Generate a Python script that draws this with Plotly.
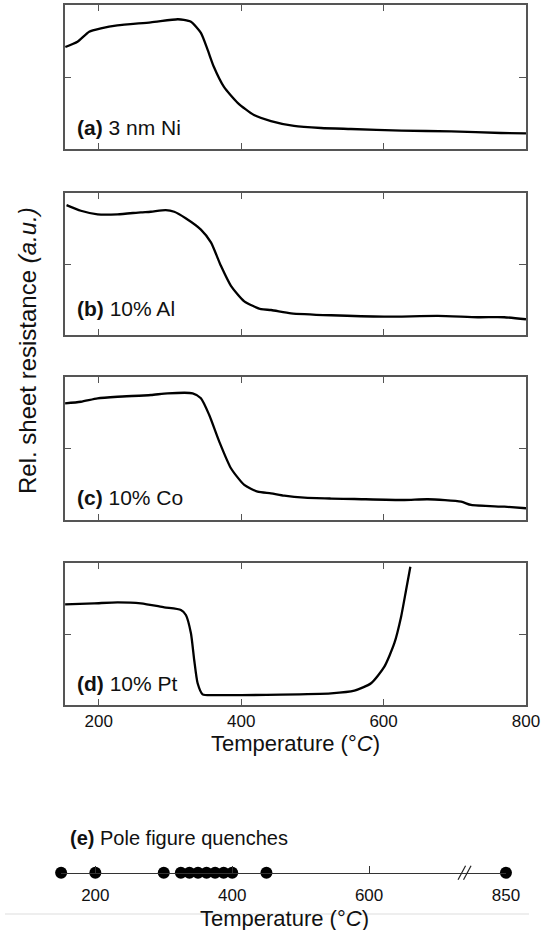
import plotly.graph_objects as go

# ---- data: relative sheet resistance (a.u.) vs temperature (°C) ----
temp_ni = [153, 170, 186.5, 203, 226, 273, 310.7, 319.5, 329.4, 343.4, 352.9, 361.7,
           375.8, 395.4, 417.9, 441.8, 474.2, 512, 554, 625, 695, 765, 800]
res_ni = [0.708, 0.745, 0.815, 0.838, 0.859, 0.880, 0.901, 0.897, 0.884, 0.806, 0.688, 0.569,
          0.431, 0.319, 0.236, 0.194, 0.160, 0.146, 0.139, 0.128, 0.122, 0.111, 0.108]

temp_al = [154.7, 174.8, 198.3, 226.4, 259.1, 273, 294, 305.9, 322, 343.4, 357.5, 371.5,
           385.6, 404.3, 427.8, 442, 470.1, 526.3, 600.6, 676.1, 732.3, 769.3, 800]
res_al = [0.915, 0.875, 0.850, 0.850, 0.864, 0.868, 0.880, 0.868, 0.822, 0.742, 0.652, 0.487,
          0.346, 0.237, 0.182, 0.176, 0.153, 0.139, 0.129, 0.134, 0.125, 0.125, 0.111]

temp_co = [152.7, 174.8, 198.3, 226.4, 273.2, 296.6, 331.8, 343.4, 355.1, 369.2, 385.6, 404.3,
           423.1, 441.8, 460.5, 488.6, 526.2, 559, 629.2, 662, 708.9, 722.9, 769.7, 800]
res_co = [0.816, 0.827, 0.851, 0.862, 0.874, 0.886, 0.886, 0.851, 0.734, 0.548, 0.362, 0.245,
          0.198, 0.186, 0.170, 0.156, 0.150, 0.147, 0.140, 0.145, 0.128, 0.105, 0.093, 0.082]

temp_pt = [152.7, 193.5, 226.4, 259.1, 291.9, 315.3, 322.3, 329.4, 334, 338.8, 345.8, 366.9,
           455.9, 526.2, 559, 582.4, 601.1, 615.1, 624.6, 631.6, 637.6]
res_pt = [0.709, 0.716, 0.723, 0.716, 0.688, 0.669, 0.634, 0.505, 0.317, 0.153, 0.075, 0.070,
          0.073, 0.082, 0.101, 0.153, 0.270, 0.435, 0.622, 0.810, 0.974]

panel_labels = ["<b>(a)</b> 3 nm Ni", "<b>(b)</b> 10% Al", "<b>(c)</b> 10% Co", "<b>(d)</b> 10% Pt"]

# quench temperatures used for pole figures
quench_temps = [150, 200, 300, 325, 337.5, 350, 362.5, 375, 387.5, 400, 450, 850]
quench_ticks = [200, 400, 600, 850]
AXIS_BREAK = 737      # temperature where the quench axis is broken
BREAK_GAP = 50        # span removed by the axis break

W, H = 543, 930
PLOT_W = 528          # drawable width left beside the page scrollbar
FONT = "Liberation Sans, Arial, sans-serif"
FRAME = "#555555"
TEXT = "#111111"


def px(x):
    return x / PLOT_W


def py(y):
    return 1 - y / H


def on_broken_axis(t):
    return t - BREAK_GAP if t > AXIS_BREAK else t


fig = go.Figure()

series = [(temp_ni, res_ni), (temp_al, res_al), (temp_co, res_co), (temp_pt, res_pt)]
panel_px = [(5, 149), (193, 335), (377, 520), (563, 705)]
x_left, x_right = 64.5, 525

for i, ((t, r), (top, bot)) in enumerate(zip(series, panel_px)):
    n = "" if i == 0 else str(i + 1)
    fig.add_trace(go.Scatter(
        x=t, y=r, mode="lines", xaxis="x" + n, yaxis="y" + n,
        line=dict(color="black", width=2.3, shape="spline", smoothing=0.6),
        showlegend=False, hoverinfo="skip"))
    last = i == 3
    fig.update_layout(**{
        "xaxis" + n: dict(
            domain=[px(x_left), px(x_right)], range=[152, 800], anchor="y" + n,
            showline=True, linecolor=FRAME, linewidth=1.5, mirror="ticks",
            ticks="inside", ticklen=6, tickcolor=FRAME, tickwidth=1.2,
            tickvals=[200, 400, 600, 800], showgrid=False, zeroline=False,
            showticklabels=last, tickfont=dict(family=FONT, size=17, color=TEXT),
            fixedrange=True),
        "yaxis" + n: dict(
            domain=[py(bot), py(top)], range=[0, 1], anchor="x" + n,
            showline=True, linecolor=FRAME, linewidth=1.5, mirror="ticks",
            ticks="inside", ticklen=7, tickcolor=FRAME, tickwidth=1.2,
            tickvals=[0.5], showticklabels=False, showgrid=False, zeroline=False,
            fixedrange=True),
    })

# quench temperature strip
fig.add_trace(go.Scatter(
    x=[on_broken_axis(t) for t in quench_temps], y=[0] * len(quench_temps),
    mode="markers", xaxis="x5", yaxis="y5", cliponaxis=False,
    marker=dict(color="black", size=12), showlegend=False, hoverinfo="skip"))

strip_y = 872.7
fig.update_layout(
    xaxis5=dict(
        domain=[px(61), px(505)], range=[150, 800], anchor="y5",
        showline=True, linecolor="#333", linewidth=1.2,
        ticks="inside", ticklen=7, tickcolor="#333", tickwidth=1,
        tickvals=[on_broken_axis(t) for t in quench_ticks],
        ticktext=[str(t) for t in quench_ticks], ticklabelstandoff=7,
        tickfont=dict(family=FONT, size=17, color=TEXT),
        showgrid=False, zeroline=False, fixedrange=True),
    yaxis5=dict(
        domain=[py(strip_y), py(strip_y - 20)], range=[0, 1], anchor="x5",
        visible=False, fixedrange=True),
)

# axis-break marks
shapes = []
for dx in (0, 8):
    shapes.append(dict(type="line", xref="x5", yref="paper",
                       x0=AXIS_BREAK - 7 + dx, x1=AXIS_BREAK + 4 + dx,
                       y0=py(strip_y + 7), y1=py(strip_y - 7),
                       line=dict(color="#222", width=1.2)))
# thin divider
shapes.append(dict(type="line", xref="paper", yref="paper", x0=px(5), x1=1,
                   y0=py(914), y1=py(914), line=dict(color="#dddddd", width=1),
                   layer="below"))

annotations = []
for label, cy in zip(panel_labels, [127, 308, 497, 683]):
    annotations.append(dict(text=label, x=px(75), y=py(cy), xref="paper", yref="paper",
                            xanchor="left", yanchor="middle", showarrow=False,
                            font=dict(family=FONT, size=21, color=TEXT)))

annotations += [
    dict(text="Rel. sheet resistance <i>(a.u.)</i>", x=px(27), y=py(351),
         xref="paper", yref="paper", textangle=-90, showarrow=False,
         xanchor="center", yanchor="middle",
         font=dict(family=FONT, size=24, color=TEXT)),
    dict(text="Temperature (°<i>C</i>)", x=px(295), y=py(743),
         xref="paper", yref="paper", showarrow=False,
         xanchor="center", yanchor="middle",
         font=dict(family=FONT, size=22, color=TEXT)),
    dict(text="<b>(e)</b> Pole figure quenches", x=px(68), y=py(838),
         xref="paper", yref="paper", showarrow=False,
         xanchor="left", yanchor="middle",
         font=dict(family=FONT, size=20, color=TEXT)),
    dict(text="Temperature (°<i>C</i>)", x=px(284), y=py(918),
         xref="paper", yref="paper", showarrow=False,
         xanchor="center", yanchor="middle",
         font=dict(family=FONT, size=22, color=TEXT)),
]

fig.update_layout(
    width=W, height=H, autosize=False, margin=dict(l=0, r=0, t=0, b=0),
    paper_bgcolor="white", plot_bgcolor="white",
    shapes=shapes, annotations=annotations,
)

fig.write_html("out.html", config={"responsive": False, "displayModeBar": False})
